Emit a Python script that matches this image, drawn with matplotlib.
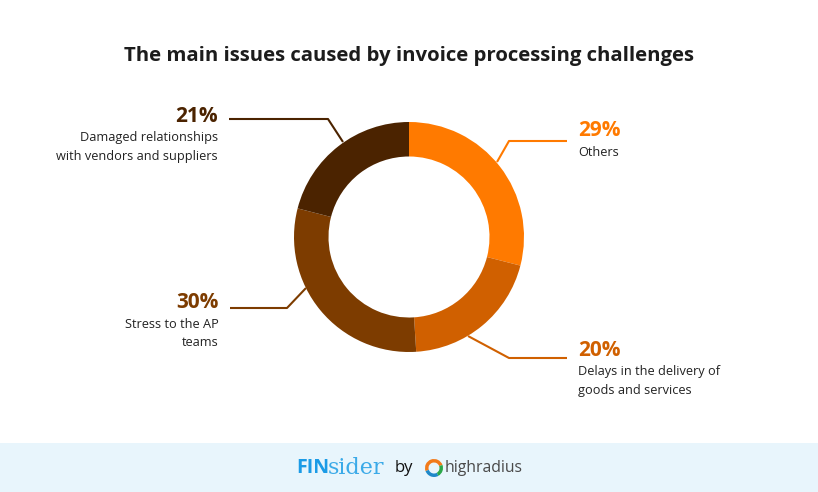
import matplotlib
matplotlib.use("Agg")
import matplotlib.pyplot as plt
from matplotlib.patches import Rectangle, Wedge

categories = ["Others", "Delays in the delivery of\ngoods and services",
              "Stress to the AP\nteams", "Damaged relationships\nwith vendors and suppliers"]
values = [29, 20, 30, 21]
colors = ["#FF7A00", "#D06000", "#7D3C00", "#4B2300"]
title = "The main issues caused by invoice processing challenges"

W, H = 818, 492
fig = plt.figure(figsize=(W / 100, H / 100), dpi=100)
ax = fig.add_axes([0, 0, 1, 1])

def Y(y):
    return H - y

FONT = "Open Sans"

# donut
cx, cy, R = 409, Y(237), 115
ax.pie(values, colors=colors, startangle=90, counterclock=False, center=(cx, cy),
       radius=R, wedgeprops=dict(width=R * 0.30, linewidth=0), frame=True)
ax.set_xlim(0, W)
ax.set_ylim(0, H)
ax.set_aspect("equal")
ax.axis("off")

ax.text(W / 2, Y(56), title, ha="center", va="center", fontsize=14.7,
        fontweight="bold", color="#1c1c1c", family=FONT)

# leader lines and labels: (points), text anchor x, ha, pct y
layout = [
    ([(497, 162), (509, 141), (567, 141)], 578, "left", 131),
    ([(468, 336), (509, 358), (567, 358)], 578, "left", 350),
    ([(306, 288), (287, 308), (230, 308)], 219, "right", 302),
    ([(343, 142), (328, 119), (229, 119)], 218, "right", 116),
]
for (pts, tx, ha, py), cat, v, c in zip(layout, categories, values, colors):
    xs = [p[0] for p in pts]
    ys = [Y(p[1]) for p in pts]
    ax.plot(xs, ys, color=c, lw=1.5, solid_capstyle="butt")
    ax.text(tx, Y(py), f"{v}%", ha=ha, va="center", fontsize=15, fontweight="bold",
            color=c, family=FONT)
    ax.text(tx, Y(py + 15.5), cat, ha=ha, va="top", fontsize=9.2, color="#222222",
            family=FONT, linespacing=1.55)

# footer
ax.add_patch(Rectangle((0, 0), W, Y(443), color="#E8F5FC", lw=0, zorder=0))
fy = Y(468)
ax.text(296, fy, "FIN", ha="left", va="center", fontsize=14, fontweight="bold",
        color="#1B9BE6", family=FONT)
ax.text(328, fy, "sider", ha="left", va="center", fontsize=16, color="#3BAAE8",
        family="DejaVu Serif")
ax.text(395, fy, "by", ha="left", va="center", fontsize=12, color="#111111", family=FONT)
# logo
lx, ly = 434, fy
ax.add_patch(Wedge((lx, ly), 9, 20, 200, width=3.5, color="#F27A1A", lw=0))
ax.add_patch(Wedge((lx, ly), 9, 200, 300, width=3.5, color="#1E88C8", lw=0))
ax.add_patch(Wedge((lx, ly), 9, 300, 380, width=3.5, color="#2BA84A", lw=0))
ax.text(445, fy, "highradius", ha="left", va="center", fontsize=11.3, color="#4a4a4a",
        family=FONT)

fig.savefig("out.png", dpi=100)
